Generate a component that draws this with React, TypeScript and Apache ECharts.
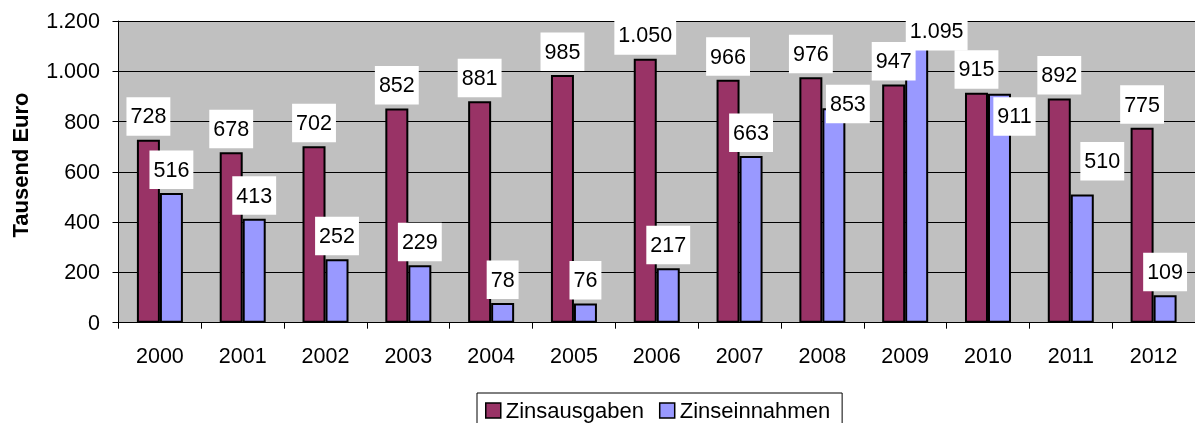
import React, { useEffect, useRef } from "react";
import * as echarts from "echarts";

const years = ["2000", "2001", "2002", "2003", "2004", "2005", "2006", "2007", "2008", "2009", "2010", "2011", "2012"];
const zinsausgaben = [728, 678, 702, 852, 881, 985, 1050, 966, 976, 947, 915, 892, 775];
const zinseinnahmen = [516, 413, 252, 229, 78, 76, 217, 663, 853, 1095, 911, 510, 109];
// label offsets (manually moved labels in the original)
const einnahmenLabelOffsets: Record<number, [number, number]> = {
  8: [14, 19],
  9: [20, 7],
  10: [15, 46],
  11: [20, -10],
};
const yTicks = { min: 0, max: 1200, interval: 200 };

const FONT = '"Liberation Sans", Arial, Helvetica, sans-serif';

function fmt(v: number): string {
  const s = String(Math.round(v));
  return s.replace(/\B(?=(\d{3})+(?!\d))/g, ".");
}

const labelBase = {
  show: true,
  position: "top" as const,
  distance: 4,
  color: "#000",
  fontFamily: FONT,
  fontSize: 21.5,
  lineHeight: 21.5,
  backgroundColor: "#ffffff",
  padding: [8.5, 4, 8.5, 4],
  formatter: (p: any) => fmt(p.value),
};

export default function App() {
  const ref = useRef<HTMLDivElement>(null);
  useEffect(() => {
    if (!ref.current) return;
    const chart = echarts.init(ref.current, null, { renderer: "svg" });
    chart.setOption({
      animation: false,
      textStyle: { fontFamily: FONT },
      grid: {
        left: 118.5,
        top: 21,
        width: 1079.5,
        height: 301.7,
        show: true,
        backgroundColor: "#C0C0C0",
        borderWidth: 0,
      },
      legend: {
        left: 477,
        top: 393,
        orient: "horizontal",
        icon: "rect",
        itemWidth: 15,
        itemHeight: 15,
        itemGap: 15,
        padding: [6.5, 12, 8, 8],
        borderColor: "#000",
        borderWidth: 1,
        backgroundColor: "#fff",
        borderRadius: 0,
        textStyle: { fontFamily: FONT, fontSize: 22, color: "#000", padding: [0, 0, 0, 0] },
        itemStyle: { borderColor: "#000", borderWidth: 1.5 },
        data: ["Zinsausgaben", "Zinseinnahmen"],
      },
      xAxis: {
        type: "category",
        data: years,
        boundaryGap: true,
        axisLine: { show: true, lineStyle: { color: "#000", width: 1 } },
        axisTick: { show: true, length: 6, lineStyle: { color: "#000", width: 1 } },
        axisLabel: { color: "#000", fontFamily: FONT, fontSize: 21.5, margin: 22 },
        splitLine: { show: false },
      },
      yAxis: {
        type: "value",
        min: yTicks.min,
        max: yTicks.max,
        interval: yTicks.interval,
        axisLine: { show: true, lineStyle: { color: "#000", width: 1 } },
        axisTick: { show: true, length: 6, lineStyle: { color: "#000", width: 1 } },
        axisLabel: { color: "#000", fontFamily: FONT, fontSize: 21.5, margin: 18.5, formatter: (v: number) => fmt(v) },
        splitLine: { show: true, lineStyle: { color: "#000", width: 1 } },
      },
      graphic: [
        {
          type: "text",
          x: 20,
          y: 165,
          rotation: Math.PI / 2,
          style: {
            text: "Tausend Euro",
            font: `bold 22px ${FONT}`,
            fill: "#000",
            textAlign: "center",
            textVerticalAlign: "middle",
          },
        },
      ],
      series: [
        {
          name: "Zinsausgaben",
          type: "bar",
          data: zinsausgaben,
          barWidth: 23,
          barGap: "0%",
          itemStyle: { color: "#993366", borderColor: "#000", borderWidth: 2 },
          label: labelBase,
          z: 2,
        },
        {
          name: "Zinseinnahmen",
          type: "bar",
          data: zinseinnahmen.map((v, i) =>
            einnahmenLabelOffsets[i] ? { value: v, label: { offset: einnahmenLabelOffsets[i] } } : v
          ),
          barWidth: 23,
          barGap: "0%",
          itemStyle: { color: "#9999FF", borderColor: "#000", borderWidth: 2 },
          label: labelBase,
          z: 2,
        },
      ],
    });
    return () => chart.dispose();
  }, []);
  return <div ref={ref} style={{ position: "fixed", left: 0, top: 0, width: 1195, height: 423 }} />;
}
